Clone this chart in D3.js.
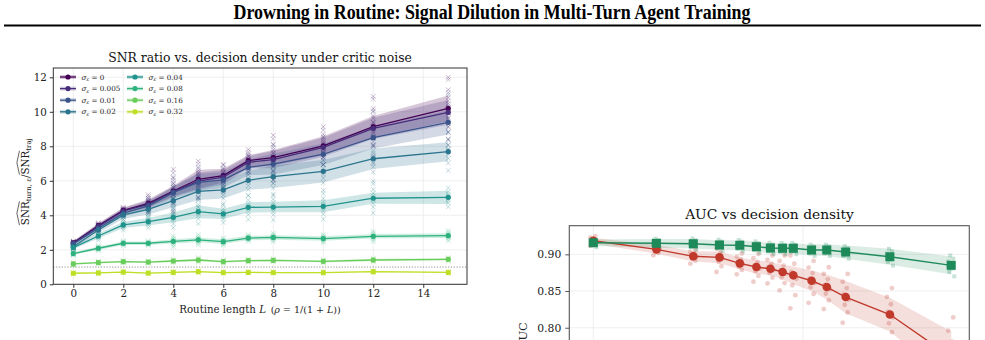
<!DOCTYPE html>
<html><head><meta charset="utf-8">
<script src="https://cdn.jsdelivr.net/npm/d3@7"></script>
<style>
html,body{margin:0;padding:0;background:#fff;overflow:hidden;}
svg{display:block;font-family:"DejaVu Serif",serif;}
</style></head><body>
<svg id="chart" width="985" height="340"></svg>
<script>
// ---------------- DATA ----------------
const routineL = [0,1,2,3,4,5,6,7,8,10,12,15];
const xTicksLeft = [0,2,4,6,8,10,12,14];
const yTicksLeft = [0,2,4,6,8,10,12];
const sigmaLabels = ["0","0.005","0.01","0.02","0.04","0.08","0.16","0.32"];

const snrS0   = [2.41,3.40,4.29,4.69,5.41,6.09,6.30,7.17,7.34,8.03,9.14,10.20];
const snrS005 = [2.38,3.36,4.25,4.64,5.36,5.98,6.21,7.07,7.23,7.94,9.04,9.97];
const snrS01  = [2.34,3.25,4.12,4.54,5.31,5.91,6.05,6.78,6.97,7.54,8.50,9.39];
const snrS02  = [2.18,3.15,4.02,4.35,4.85,5.39,5.47,6.03,6.24,6.55,7.28,7.69];
const snrS04  = [2.13,2.80,3.44,3.63,3.88,4.21,4.08,4.46,4.48,4.52,4.99,5.04];
const snrS08  = [1.78,2.09,2.38,2.38,2.49,2.58,2.47,2.68,2.72,2.65,2.78,2.82];
const snrS16  = [1.18,1.26,1.31,1.29,1.35,1.41,1.31,1.37,1.39,1.33,1.41,1.45];
const snrS32  = [0.64,0.66,0.71,0.65,0.69,0.73,0.68,0.69,0.68,0.68,0.73,0.69];

// half-width of the shaded band
const bandS0   = [0.10,0.14,0.16,0.22,0.30,0.55,0.40,0.32,0.45,0.55,0.62,0.75];
const bandS005 = [0.10,0.14,0.17,0.22,0.30,0.50,0.42,0.35,0.50,0.55,0.62,0.72];
const bandS01  = [0.10,0.15,0.18,0.25,0.35,0.50,0.45,0.45,0.60,0.62,0.62,0.70];
const bandS02  = [0.10,0.18,0.22,0.30,0.38,0.50,0.50,0.55,0.65,0.65,0.60,0.55];
const bandS04  = [0.10,0.15,0.18,0.22,0.28,0.38,0.30,0.30,0.30,0.35,0.32,0.38];
const bandS08  = [0.07,0.10,0.10,0.10,0.12,0.14,0.14,0.13,0.13,0.13,0.13,0.14];
const bandS16  = [0.05,0.05,0.06,0.06,0.06,0.07,0.06,0.06,0.06,0.06,0.07,0.07];
const bandS32  = [0.04,0.04,0.04,0.04,0.04,0.04,0.04,0.04,0.04,0.04,0.04,0.04];

// half-range of the per-seed crosses
const seedS0   = [0.10,0.16,0.18,0.50,1.25,1.05,0.65,0.65,1.30,1.10,1.75,1.80];
const seedS005 = [0.10,0.16,0.18,0.45,1.10,1.00,0.70,0.60,1.20,1.00,1.70,1.90];
const seedS01  = [0.10,0.18,0.20,0.45,0.90,0.90,0.70,0.70,1.10,1.00,1.50,1.60];
const seedS02  = [0.12,0.22,0.25,0.45,0.80,0.90,0.80,0.90,1.10,1.10,1.30,1.10];
const seedS04  = [0.15,0.25,0.30,0.35,0.60,0.70,0.50,0.70,0.75,0.75,0.85,0.55];
const seedS08  = [0.10,0.15,0.15,0.15,0.30,0.30,0.22,0.20,0.25,0.25,0.30,0.30];
const seedS16  = [0.08,0.08,0.08,0.08,0.10,0.15,0.10,0.10,0.10,0.10,0.12,0.12];
const seedS32  = [0.06,0.06,0.06,0.06,0.07,0.08,0.06,0.06,0.06,0.06,0.07,0.06];
const seedOffsets = [-1,-0.6,-0.35,-0.15,0,0.15,0.35,0.6,1];

// right panel: 1/rho = 1 + L (log axis)
const invRho = [1,2,3,4,5,6,7,8,9,11,13,16,26,51];
const aucGreen = [0.9158,0.9150,0.9144,0.9127,0.9123,0.9104,0.9086,0.9082,0.9082,0.9059,0.9059,0.9031,0.8967,0.8850];
const aucRed   = [0.9185,0.9068,0.8973,0.8959,0.8877,0.8827,0.8804,0.8759,0.8714,0.8640,0.8554,0.8418,0.8180,0.7600];
const bandGreen = [0.0045,0.006,0.0065,0.0065,0.007,0.007,0.007,0.007,0.007,0.0075,0.008,0.009,0.011,0.012];
const bandRed   = [0.004,0.006,0.007,0.008,0.008,0.009,0.009,0.010,0.012,0.014,0.017,0.022,0.023,0.035];
const seedGreen = [0.006,0.007,0.008,0.008,0.008,0.008,0.008,0.008,0.008,0.008,0.008,0.009,0.012,0.015];
const seedRed   = [0.007,0.008,0.010,0.020,0.015,0.020,0.020,0.025,0.045,0.030,0.030,0.035,0.040,0.060];
const dotOffsets = [-1,-0.6,-0.3,-0.1,0.1,0.35,0.6,0.9];
const dotJitter = [-3,2,-1,3,-2,1,-3,2];
const yTicksRight = [0.80,0.85,0.90];
const xTicksRight = [1,10];

// ---------------- DRAW ----------------
const svg = d3.select("#chart");
const snrSeries = [snrS0,snrS005,snrS01,snrS02,snrS04,snrS08,snrS16,snrS32];
const bandSeries = [bandS0,bandS005,bandS01,bandS02,bandS04,bandS08,bandS16,bandS32];
const seedSeries = [seedS0,seedS005,seedS01,seedS02,seedS04,seedS08,seedS16,seedS32];
const colors = sigmaLabels.map((d,i)=>d3.interpolateViridis(0.9*i/7));

// title
svg.append("text").attr("x",492).attr("y",19).attr("text-anchor","middle")
  .attr("font-family","'Liberation Serif',serif").attr("font-weight","bold")
  .attr("font-size",20).attr("textLength",517).attr("lengthAdjust","spacingAndGlyphs")
  .text("Drowning in Routine: Signal Dilution in Multi-Turn Agent Training");
svg.append("line").attr("x1",4).attr("x2",981).attr("y1",25.5).attr("y2",25.5)
  .attr("stroke","#000").attr("stroke-width",2);

// ---- left panel ----
const x = d3.scaleLinear().domain([-0.8,15.75]).range([53.3,467]);
const y = d3.scaleLinear().domain([0,12.54]).range([284.3,68]);
const L = svg.append("g");
L.append("g").selectAll("line").data(xTicksLeft).join("line")
  .attr("x1",d=>x(d)).attr("x2",d=>x(d)).attr("y1",68).attr("y2",284.3)
  .attr("stroke","#ebebeb").attr("stroke-width",0.8);
L.append("g").selectAll("line").data(yTicksLeft).join("line")
  .attr("y1",d=>y(d)).attr("y2",d=>y(d)).attr("x1",53.3).attr("x2",467)
  .attr("stroke","#ebebeb").attr("stroke-width",0.8);
// reference at 1
L.append("line").attr("x1",53.3).attr("x2",467).attr("y1",y(1)).attr("y2",y(1))
  .attr("stroke","#777").attr("stroke-width",0.8).attr("stroke-dasharray","1.2,1.6");

// crosses
snrSeries.forEach((vals,si)=>{
  const pts=[];
  vals.forEach((v,i)=>seedOffsets.forEach(o=>pts.push([routineL[i], v+o*seedSeries[si][i]])));
  L.append("g").selectAll("path").data(pts).join("path")
    .attr("d",d=>{const cx=x(d[0]),cy=y(d[1]),h=2.3;return `M${cx-h},${cy-h}L${cx+h},${cy+h}M${cx-h},${cy+h}L${cx+h},${cy-h}`;})
    .attr("stroke",colors[si]).attr("stroke-width",0.8).attr("opacity",0.35).attr("fill","none");
});
// bands
snrSeries.forEach((vals,si)=>{
  const area=d3.area().x((d,i)=>x(routineL[i])).y0((d,i)=>y(d-bandSeries[si][i])).y1((d,i)=>y(d+bandSeries[si][i]));
  L.append("path").attr("d",area(vals)).attr("fill",colors[si]).attr("opacity",0.22);
});
// lines + markers
snrSeries.forEach((vals,si)=>{
  const line=d3.line().x((d,i)=>x(routineL[i])).y(d=>y(d));
  L.append("path").attr("d",line(vals)).attr("fill","none").attr("stroke",colors[si]).attr("stroke-width",1.3);
  L.append("g").selectAll("circle").data(vals).join("circle")
    .attr("cx",(d,i)=>x(routineL[i])).attr("cy",d=>y(d)).attr("r",2.6).attr("fill",colors[si]);
});
// frame
L.append("rect").attr("x",53.3).attr("y",68).attr("width",467-53.3).attr("height",284.3-68)
  .attr("fill","none").attr("stroke","#333").attr("stroke-width",1);
const xa = L.append("g").attr("transform","translate(0,284.3)")
  .call(d3.axisBottom(x).tickValues(xTicksLeft).tickSize(3.5).tickPadding(2));
const ya = L.append("g").attr("transform","translate(53.3,0)")
  .call(d3.axisLeft(y).tickValues(yTicksLeft).tickSize(3.5).tickPadding(3));
[xa,ya].forEach(a=>{a.select(".domain").remove();a.selectAll("line").attr("stroke","#333");
  a.selectAll("text").attr("font-family","'DejaVu Serif',serif").attr("font-size",10.3).attr("fill","#222");});
svg.append("text").attr("x",260).attr("y",62).attr("text-anchor","middle").attr("font-size",12.4).attr("fill","#111")
  .text("SNR ratio vs. decision density under critic noise");
// x label
const xl = svg.append("text").attr("x",260).attr("y",312.5).attr("text-anchor","middle").attr("font-size",10.2).attr("fill","#222");
xl.append("tspan").text("Routine length ");
xl.append("tspan").attr("font-style","italic").text("L");
xl.append("tspan").attr("font-size",9.5).text("\u2002(");
xl.append("tspan").attr("font-style","italic").attr("font-size",9.5).text("ρ");
xl.append("tspan").attr("font-size",9.5).text(" = 1/(1 + ");
xl.append("tspan").attr("font-style","italic").attr("font-size",9.5).text("L");
xl.append("tspan").attr("font-size",9.5).text("))");
// y label with hats
const yl = svg.append("g").attr("transform","translate(28.5,181.7) rotate(-90)");
const pieces=[{t:"SNR",s:10.3,hat:true},{t:"turn, ε",s:7,dy:2.6,it:false},{t:" / ",s:10.3},{t:"SNR",s:10.3,hat:true},{t:"traj",s:7,dy:2.6}];
let cx0=0; const nodes=[];
pieces.forEach(p=>{const t=yl.append("text").attr("font-size",p.s).attr("y",p.dy||0).attr("fill","#222").text(p.t);
  const w=t.node().getComputedTextLength(); nodes.push({t,x:cx0,w,p}); cx0+=w;});
nodes.forEach(n=>{n.t.attr("x",n.x-cx0/2);
  if(n.p.hat){const a=n.x-cx0/2,b=a+n.w,top=-n.p.s*0.73-1.5;
    yl.append("path").attr("d",`M${a},${top}L${(a+b)/2},${top-2.6}L${b},${top}`).attr("fill","none").attr("stroke","#222").attr("stroke-width",0.7);}});
// legend
const lg = svg.append("g");
sigmaLabels.forEach((s,i)=>{
  const col=Math.floor(i/4), row=i%4;
  const lx=col?127:60, ly=77+row*11.6;
  lg.append("rect").attr("x",lx).attr("y",ly-2).attr("width",16).attr("height",4).attr("fill",colors[i]).attr("opacity",0.22);
  lg.append("line").attr("x1",lx).attr("x2",lx+16).attr("y1",ly).attr("y2",ly).attr("stroke",colors[i]).attr("stroke-width",1.3);
  lg.append("circle").attr("cx",lx+8).attr("cy",ly).attr("r",2.6).attr("fill",colors[i]);
  const t=lg.append("text").attr("x",lx+21.5).attr("y",ly+2.5).attr("font-size",7.2).attr("fill","#222");
  t.append("tspan").attr("font-style","italic").text("σ");
  t.append("tspan").attr("font-style","italic").attr("font-size",5).attr("dy",1.5).text("ε");
  t.append("tspan").attr("dy",-1.5).text(" = "+s);
});

// ---- right panel ----
const xr = d3.scaleLog().domain([0.768,62.2]).range([569.3,969.3]);
const yr = d3.scaleLinear().domain([0.64,0.939]).range([445.2,225.7]);
const R = svg.append("g");
R.append("g").selectAll("line").data(xTicksRight).join("line")
  .attr("x1",d=>xr(d)).attr("x2",d=>xr(d)).attr("y1",225.7).attr("y2",445.2).attr("stroke","#ebebeb").attr("stroke-width",0.8);
R.append("g").selectAll("line").data(yTicksRight).join("line")
  .attr("y1",d=>yr(d)).attr("y2",d=>yr(d)).attr("x1",569.3).attr("x2",969.3).attr("stroke","#ebebeb").attr("stroke-width",0.8);
const red="#c0392b", green="#1e8a5a";
// scatter
aucRed.forEach((v,i)=>dotOffsets.forEach((o,k)=>{
  R.append("circle").attr("cx",xr(invRho[i])+dotJitter[k]).attr("cy",yr(v+o*seedRed[i])).attr("r",2.4).attr("fill",red).attr("opacity",0.25);
}));
aucGreen.forEach((v,i)=>dotOffsets.forEach((o,k)=>{
  R.append("rect").attr("x",xr(invRho[i])+dotJitter[(k+3)%8]-2).attr("y",yr(v+o*seedGreen[i])-2).attr("width",4).attr("height",4).attr("fill",green).attr("opacity",0.25);
}));
const areaR=(vals,band)=>d3.area().x((d,i)=>xr(invRho[i])).y0((d,i)=>yr(d-band[i])).y1((d,i)=>yr(d+band[i]))(vals);
R.append("path").attr("d",areaR(aucRed,bandRed)).attr("fill",red).attr("opacity",0.16);
R.append("path").attr("d",areaR(aucGreen,bandGreen)).attr("fill",green).attr("opacity",0.16);
const lineR=d3.line().x((d,i)=>xr(invRho[i])).y(d=>yr(d));
R.append("path").attr("d",lineR(aucRed)).attr("fill","none").attr("stroke",red).attr("stroke-width",1.4);
R.append("g").selectAll("circle").data(aucRed).join("circle").attr("cx",(d,i)=>xr(invRho[i])).attr("cy",d=>yr(d)).attr("r",4.3).attr("fill",red);
R.append("path").attr("d",lineR(aucGreen)).attr("fill","none").attr("stroke",green).attr("stroke-width",1.4);
R.append("g").selectAll("rect.m").data(aucGreen).join("rect").attr("x",(d,i)=>xr(invRho[i])-4.5).attr("y",d=>yr(d)-4.5)
  .attr("width",9).attr("height",9).attr("fill",green);
R.append("rect").attr("x",569.3).attr("y",225.7).attr("width",400).attr("height",445.2-225.7)
  .attr("fill","none").attr("stroke","#555").attr("stroke-width",1.1);
const ra = R.append("g").attr("transform","translate(569.3,0)")
  .call(d3.axisLeft(yr).tickValues(yTicksRight).tickFormat(d3.format(".2f")).tickSize(4).tickPadding(4));
ra.select(".domain").remove(); ra.selectAll("line").attr("stroke","#555");
ra.selectAll("text").attr("font-family","'DejaVu Serif',serif").attr("font-size",10.8).attr("fill","#222");
svg.append("text").attr("x",769.5).attr("y",218.5).attr("text-anchor","middle").attr("font-size",13.8).attr("fill","#111")
  .text("AUC vs decision density");
svg.append("text").attr("transform","translate(527,335.5) rotate(-90)").attr("text-anchor","middle").attr("font-size",11.5).attr("fill","#222").text("AUC");
</script></body></html>
